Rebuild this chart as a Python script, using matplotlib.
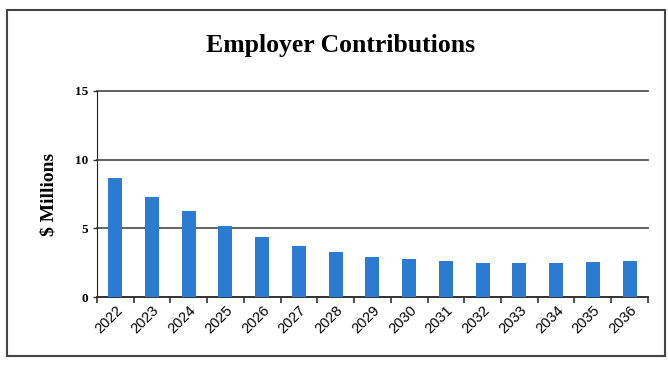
import matplotlib.pyplot as plt
from matplotlib.patches import Rectangle

# data
years = ['2022', '2023', '2024', '2025', '2026', '2027', '2028', '2029',
         '2030', '2031', '2032', '2033', '2034', '2035', '2036']
contributions = [8.65, 7.3, 6.25, 5.2, 4.35, 3.75, 3.25, 2.95,
                 2.8, 2.6, 2.5, 2.5, 2.45, 2.55, 2.6]
y_ticks = [0, 5, 10, 15]

fig = plt.figure(figsize=(6.68, 3.65), dpi=100)
ax = fig.add_axes([0.145, 0.186, 0.825, 0.565])

x = range(len(years))
ax.bar(x, contributions, width=0.38, color='#2b7bd0', zorder=3)

ax.set_ylim(0, 15)
ax.set_xlim(-0.5, len(years) - 0.5)
ax.set_yticks(y_ticks)
ax.set_yticklabels([str(t) for t in y_ticks], family='Liberation Serif',
                   fontsize=9.5, fontweight='bold')
ax.yaxis.grid(True, color='#555555', linewidth=1.3, zorder=0)
for gl in ax.get_ygridlines():
    gl.set_clip_on(False)

# ticks between the categories on the x axis
ax.set_xticks([i - 0.5 for i in range(len(years) + 1)], minor=False)
ax.set_xticklabels([])
ax.set_xticks(list(x), minor=True)
ax.set_xticklabels(years, minor=True, rotation=45, ha='right',
                   rotation_mode='anchor', family='Liberation Sans', fontsize=10.5)
ax.tick_params(axis='x', which='minor', length=0, pad=4)
ax.tick_params(axis='x', which='major', length=4, width=1.2, color='#333333')
ax.tick_params(axis='y', length=3, width=1, color='#333333')

for side in ['top', 'right']:
    ax.spines[side].set_visible(False)
ax.spines['left'].set_color('#222222')
ax.spines['bottom'].set_color('#333333')
ax.spines['bottom'].set_linewidth(1.3)

ax.set_ylabel(r'\$ Millions', family='Liberation Serif',
              fontsize=14, fontweight='bold', labelpad=12)

fig.text(0.51, 0.875, 'Employer Contributions', ha='center', va='center',
         family='Liberation Serif', fontsize=18.5, fontweight='bold')

# outer frame
fig.patches.append(Rectangle((0.01, 0.025), 0.985, 0.948, transform=fig.transFigure,
                             fill=False, edgecolor='#444444', linewidth=1.5))

fig.savefig('out.png', dpi=100)
